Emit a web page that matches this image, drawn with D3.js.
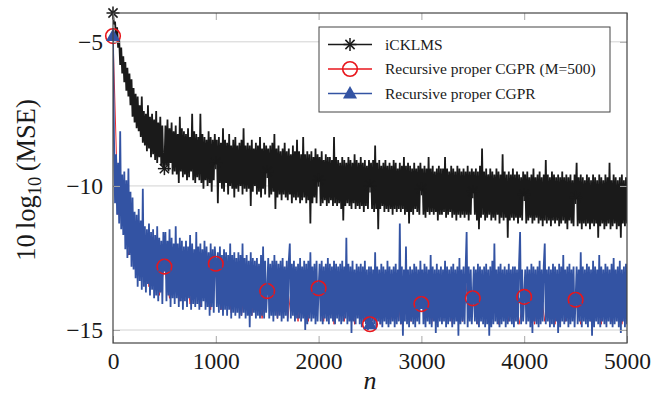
<!DOCTYPE html>
<html>
<head>
<meta charset="utf-8">
<script src="https://cdn.jsdelivr.net/npm/d3@7"></script>
<style>
  body { margin: 0; background: #fff; }
  text { font-family: "Liberation Serif", "DejaVu Serif", serif; fill: #1a1a1a; }
</style>
</head>
<body>
<script>
// learning curves, 10 log10(MSE) in dB, one value every 10 samples (n = 0..5000)
var iCKLMS = [
  -4.0,-4.4,-4.3,-4.9,-4.5,-5.2,-4.9,-5.8,-5.2,-6.1,
  -5.5,-6.4,-5.7,-6.7,-5.9,-6.9,-6.1,-7.2,-6.3,-7.6,
  -6.6,-7.8,-6.8,-8.0,-6.9,-8.1,-7.2,-8.3,-6.9,-8.5,
  -7.4,-8.6,-7.5,-8.8,-7.2,-8.7,-7.6,-9.0,-7.5,-8.9,
  -7.7,-9.1,-7.4,-9.2,-7.8,-9.0,-7.6,-9.3,-7.9,-9.4,
  -9.4,-7.9,-9.3,-7.7,-9.5,-8.0,-9.2,-7.8,-9.6,-8.1,
  -9.5,-7.9,-9.6,-8.2,-9.9,-7.6,-9.5,-8.0,-9.7,-8.1,
  -9.6,-8.2,-9.8,-8.0,-9.7,-8.3,-9.5,-7.5,-9.8,-8.1,
  -9.9,-8.2,-9.7,-8.3,-9.8,-7.5,-9.9,-8.2,-10.1,-8.3,
  -9.8,-8.4,-10.0,-8.1,-9.9,-8.3,-10.2,-8.4,-9.8,-8.2,
  -9.2,-8.4,-10.6,-8.3,-9.9,-8.5,-10.1,-8.0,-10.2,-8.4,
  -9.9,-8.5,-10.3,-8.2,-10.0,-8.6,-10.1,-8.4,-10.4,-8.3,
  -10.1,-8.6,-10.2,-8.5,-10.0,-8.4,-10.3,-8.0,-10.1,-8.6,
  -10.2,-8.5,-10.1,-8.6,-10.7,-8.4,-10.2,-8.7,-10.0,-8.5,
  -10.3,-8.6,-10.2,-8.3,-10.4,-8.7,-10.1,-8.5,-10.3,-8.6,
  -9.5,-8.7,-10.4,-8.6,-10.3,-8.5,-10.2,-8.2,-10.8,-8.7,
  -10.4,-8.6,-10.3,-8.8,-10.5,-8.7,-10.3,-8.5,-10.4,-8.8,
  -10.5,-8.7,-10.3,-8.9,-10.6,-8.6,-10.4,-8.8,-10.5,-8.4,
  -10.4,-8.8,-10.6,-8.9,-10.5,-8.3,-10.4,-8.9,-10.6,-8.8,
  -10.5,-8.9,-11.3,-8.8,-10.6,-9.0,-10.4,-8.7,-10.6,-8.9,
  -9.8,-9.0,-10.7,-8.8,-10.6,-9.1,-10.5,-8.9,-10.7,-9.0,
  -10.6,-9.0,-10.5,-9.1,-10.7,-8.3,-10.6,-9.0,-10.7,-9.1,
  -10.6,-9.2,-10.8,-9.0,-11.2,-9.1,-10.7,-9.2,-10.6,-9.0,
  -10.7,-9.1,-10.8,-9.2,-10.6,-8.9,-10.8,-9.1,-10.7,-9.2,
  -10.8,-9.0,-10.7,-9.2,-10.9,-9.1,-10.7,-9.3,-10.8,-9.1,
  -10.0,-9.2,-10.8,-9.1,-10.9,-8.6,-10.8,-9.2,-11.5,-9.1,
  -10.8,-9.3,-10.7,-9.2,-10.9,-9.1,-10.8,-9.3,-10.9,-9.2,
  -10.8,-9.3,-11.0,-9.1,-10.8,-9.2,-10.9,-9.4,-10.8,-9.2,
  -10.9,-9.3,-10.8,-9.0,-11.0,-9.3,-10.9,-9.2,-11.3,-9.3,
  -10.9,-9.4,-11.0,-9.2,-10.8,-9.4,-10.9,-9.3,-11.0,-9.2,
  -10.1,-9.4,-11.0,-9.3,-11.1,-9.4,-10.9,-9.0,-11.0,-9.4,
  -10.9,-9.3,-11.0,-9.5,-10.9,-9.4,-11.2,-9.3,-11.0,-9.4,
  -11.0,-9.4,-10.9,-9.0,-11.1,-9.4,-11.0,-9.5,-10.9,-9.3,
  -11.1,-9.4,-11.0,-9.5,-11.2,-9.3,-11.0,-9.4,-11.1,-9.5,
  -11.0,-9.4,-11.1,-9.5,-11.0,-9.3,-11.2,-9.5,-11.0,-9.4,
  -10.2,-9.5,-11.0,-9.4,-11.2,-9.5,-11.5,-9.3,-11.1,-8.7,
  -11.0,-9.5,-11.2,-9.4,-11.1,-9.6,-11.0,-9.4,-11.2,-9.5,
  -11.1,-9.6,-11.2,-9.4,-11.0,-9.5,-11.3,-9.6,-11.1,-8.9,
  -11.2,-9.5,-11.1,-9.6,-11.8,-9.5,-11.2,-9.6,-11.1,-9.4,
  -11.2,-9.6,-11.1,-9.5,-11.3,-9.6,-11.1,-9.7,-11.2,-9.5,
  -10.3,-9.6,-11.3,-9.5,-11.2,-9.7,-11.1,-9.6,-11.3,-9.4,
  -11.2,-9.7,-11.1,-9.6,-11.3,-9.5,-11.2,-9.7,-11.4,-9.6,
  -11.2,-9.1,-11.3,-9.6,-11.2,-9.7,-11.4,-9.5,-11.2,-9.6,
  -11.3,-9.7,-11.2,-9.6,-11.4,-9.7,-11.3,-9.5,-11.2,-9.7,
  -11.3,-9.6,-11.5,-9.7,-11.2,-9.6,-11.3,-9.8,-11.4,-9.6,
  -10.4,-9.2,-11.4,-9.7,-11.3,-9.6,-11.5,-9.7,-11.3,-9.8,
  -11.4,-9.6,-11.3,-9.7,-11.5,-9.8,-11.3,-9.6,-11.4,-9.7,
  -11.3,-9.8,-11.8,-9.6,-11.4,-9.7,-11.3,-9.8,-11.5,-9.6,
  -11.4,-9.7,-11.3,-9.2,-11.5,-9.8,-11.4,-9.6,-11.3,-9.7,
  -11.5,-9.8,-11.4,-9.7,-11.8,-9.6,-11.3,-9.8,-11.4,-9.7,
  -11.3
]

// one value every 50 samples, mostly hidden under the blue curve
var cgprM500 = [
  -4.8,-11.0,-10.5,-12.4,-11.6,-13.1,-12.0,-13.5,-12.3,-13.8,
  -12.8,-13.9,-12.4,-14.0,-12.6,-14.1,-12.5,-14.2,-12.7,-14.3,
  -12.7,-14.3,-12.9,-14.4,-13.0,-14.5,-12.9,-14.5,-13.1,-14.6,
  -13.65,-12.9,-14.6,-13.0,-14.6,-13.1,-14.7,-13.0,-14.7,-13.2,
  -13.55,-14.7,-13.1,-14.8,-13.2,-14.7,-13.0,-14.8,-13.3,-14.7,
  -14.8,-13.2,-14.8,-13.1,-14.7,-13.3,-14.8,-13.2,-14.7,-13.1,
  -14.1,-13.2,-14.8,-13.3,-14.7,-13.1,-14.8,-13.2,-14.7,-13.3,
  -13.9,-14.8,-13.2,-14.7,-13.1,-14.8,-13.3,-14.7,-13.2,-14.8,
  -13.85,-13.1,-14.8,-13.3,-14.7,-13.2,-14.8,-13.1,-14.7,-13.3,
  -13.95,-14.8,-13.2,-14.7,-13.1,-14.8,-13.3,-14.7,-13.2,-14.8,
  -13.9
]

// one value every 10 samples
var cgpr = [
  -4.8,-8.4,-10.6,-8.9,-11.0,-9.2,-11.3,-8.1,-11.5,-9.6,
  -11.7,-9.5,-12.2,-9.8,-12.5,-9.4,-12.4,-10.2,-12.8,-10.4,
  -12.9,-10.9,-13.2,-11.0,-13.5,-10.8,-13.3,-11.2,-13.6,-10.1,
  -13.5,-11.4,-13.7,-11.5,-13.4,-11.3,-13.8,-11.6,-13.6,-11.5,
  -13.9,-11.7,-13.8,-11.4,-14.0,-11.8,-13.7,-11.9,-14.1,-11.6,
  -12.8,-11.6,-14.0,-11.9,-13.8,-11.5,-14.2,-11.8,-13.9,-12.0,
  -14.1,-11.4,-13.9,-12.0,-14.2,-11.8,-14.0,-11.9,-14.3,-12.1,
  -14.0,-11.9,-14.2,-12.1,-13.9,-11.7,-14.3,-12.0,-14.1,-12.2,
  -14.2,-11.6,-14.1,-12.1,-14.3,-12.0,-14.2,-12.2,-14.0,-11.9,
  -14.3,-12.1,-14.2,-12.3,-14.5,-12.0,-14.2,-12.2,-14.4,-12.1,
  -12.7,-14.2,-12.3,-14.4,-12.1,-14.3,-12.4,-14.5,-12.2,-14.3,
  -12.3,-14.5,-12.4,-14.3,-12.0,-14.6,-12.4,-14.4,-12.3,-14.5,
  -12.5,-14.4,-12.3,-14.6,-12.4,-14.5,-12.0,-14.4,-12.5,-14.6,
  -12.4,-14.5,-12.6,-14.9,-12.3,-14.5,-12.5,-14.4,-12.6,-14.6,
  -12.5,-14.5,-12.7,-14.6,-12.4,-14.5,-12.1,-14.6,-12.6,-14.4,
  -13.6,-12.5,-14.6,-12.7,-14.5,-12.6,-14.7,-12.4,-14.5,-12.6,
  -14.6,-12.7,-14.5,-12.6,-14.7,-12.5,-14.6,-12.8,-14.5,-12.6,
  -14.7,-12.6,-12.0,-14.6,-12.7,-14.5,-12.6,-14.7,-12.8,-14.6,
  -12.7,-14.6,-12.5,-14.7,-12.8,-14.6,-12.6,-15.0,-12.7,-14.8,
  -12.6,-14.6,-12.3,-14.7,-12.8,-14.6,-12.7,-14.8,-12.6,-14.7,
  -13.55,-12.7,-14.7,-12.6,-14.8,-12.8,-14.6,-12.7,-14.7,-12.5,
  -14.8,-12.7,-14.6,-12.8,-14.7,-12.6,-14.8,-12.7,-14.6,-12.8,
  -14.7,-12.7,-14.8,-12.6,-14.7,-12.8,-14.6,-11.8,-14.8,-12.7,
  -14.7,-12.8,-15.1,-12.6,-14.7,-12.9,-14.8,-12.7,-14.6,-12.8,
  -14.8,-12.7,-14.9,-12.8,-14.7,-12.6,-14.8,-12.9,-15.0,-12.8,
  -14.8,-12.8,-14.7,-12.9,-14.8,-12.3,-14.9,-12.8,-14.7,-12.9,
  -14.8,-12.7,-14.9,-12.8,-14.7,-12.9,-14.8,-12.6,-14.9,-12.8,
  -14.8,-12.9,-14.7,-12.8,-14.9,-12.7,-14.8,-12.9,-14.7,-11.3,
  -14.8,-12.8,-15.2,-12.9,-14.7,-12.1,-14.8,-12.9,-14.9,-12.8,
  -14.7,-12.9,-14.8,-12.7,-14.9,-12.8,-14.7,-12.9,-14.8,-12.6,
  -14.1,-12.9,-14.8,-12.7,-14.9,-12.8,-14.7,-12.9,-14.8,-12.4,
  -14.9,-12.8,-14.7,-12.9,-15.1,-12.7,-14.9,-12.9,-14.7,-12.8,
  -14.8,-12.9,-14.7,-12.6,-14.9,-12.8,-14.8,-12.9,-14.7,-12.8,
  -14.9,-12.7,-14.8,-12.9,-14.7,-12.8,-15.2,-12.5,-14.8,-12.9,
  -14.7,-12.8,-14.8,-12.9,-11.6,-14.9,-12.8,-14.7,-12.9,-14.8,
  -13.9,-12.8,-14.7,-12.9,-14.8,-12.7,-14.9,-12.8,-14.7,-12.9,
  -14.8,-12.8,-14.9,-12.7,-14.8,-12.9,-15.2,-12.8,-14.9,-12.6,
  -14.8,-12.0,-14.7,-12.9,-14.8,-12.8,-14.9,-12.7,-14.8,-12.9,
  -14.7,-12.8,-14.9,-12.9,-14.8,-12.7,-14.7,-12.9,-14.8,-12.8,
  -14.9,-12.8,-14.7,-12.9,-14.8,-12.7,-11.6,-14.8,-12.9,-14.7,
  -13.85,-12.9,-14.8,-12.8,-14.7,-12.9,-14.9,-12.7,-15.1,-12.8,
  -14.7,-12.9,-14.8,-12.8,-14.9,-12.6,-14.8,-12.9,-14.7,-12.8,
  -12.0,-14.8,-12.9,-14.7,-12.8,-14.9,-12.9,-14.8,-12.7,-14.9,
  -12.8,-14.7,-12.9,-15.1,-12.7,-14.9,-12.8,-14.7,-12.4,-14.8,
  -12.9,-14.7,-12.8,-14.9,-12.7,-14.8,-12.9,-14.7,-12.8,-14.9,
  -13.95,-12.8,-14.8,-12.9,-14.7,-12.3,-14.9,-12.8,-14.7,-12.9,
  -14.8,-12.7,-14.9,-12.8,-14.7,-12.9,-15.2,-12.6,-14.9,-12.8,
  -14.7,-12.9,-14.8,-12.4,-14.9,-12.8,-14.7,-12.9,-14.8,-12.7,
  -14.9,-12.8,-14.7,-12.9,-14.8,-12.7,-14.9,-12.5,-14.8,-12.9,
  -14.7,-12.8,-14.9,-12.6,-15.1,-12.9,-14.7,-12.8,-14.9,-12.7,
  -14.8
]

var markIdx = [0, 500, 1000, 1500, 2000, 2500, 3000, 3500, 4000, 4500]
var xTicks = [0, 1000, 2000, 3000, 4000, 5000]
var yTicks = [-15, -10, -5]
var names = ["iCKLMS", "Recursive proper CGPR (M=500)", "Recursive proper CGPR"]

var width = 667, height = 398
var margin = {top: 13, right: 40, bottom: 55, left: 113}
var colors = ["#1a1a1a", "#e8161c", "#3353a3"]
var serif = '"Liberation Serif", "DejaVu Serif", serif'

var x = d3.scaleLinear().domain([0, 5000]).range([margin.left, width - margin.right])
var y = d3.scaleLinear().domain([-15.45, -4]).range([height - margin.bottom, margin.top])

// turn a value list into [n, value] points
function pts(vals) {
  var step = 5000 / (vals.length - 1)
  return vals.map((v, i) => [i * step, v])
}
function at(vals, n) {
  var step = 5000 / (vals.length - 1)
  return vals[Math.round(n / step)]
}

var series = [
  {vals: iCKLMS, mark: "star", w: 1.8},
  {vals: cgprM500, mark: "circle", w: 0.9},
  {vals: cgpr, mark: "tri", w: 1.8}
]

var svg = d3.select("body").append("svg").attr("width", width).attr("height", height)

svg.append("clipPath").attr("id", "clip").append("rect")
  .attr("x", margin.left).attr("y", margin.top)
  .attr("width", width - margin.left - margin.right)
  .attr("height", height - margin.top - margin.bottom)

// horizontal grid
svg.append("g").selectAll("line").data(yTicks).join("line")
  .attr("x1", margin.left).attr("x2", width - margin.right)
  .attr("y1", d => y(d)).attr("y2", d => y(d))
  .attr("stroke", "#d2d2d2").attr("stroke-width", 1)

var line = d3.line().x(d => x(d[0])).y(d => y(d[1]))

var lines = svg.append("g").attr("clip-path", "url(#clip)")
series.forEach((s, i) => {
  lines.append("path").datum(pts(s.vals))
    .attr("d", line).attr("fill", "none")
    .attr("stroke", colors[i]).attr("stroke-width", s.w)
    .attr("stroke-linejoin", "bevel")
})

function drawMark(g, type, color) {
  if (type == "star") {
    [0, 45, 90, 135].forEach(a => {
      var r = 6.5, t = a * Math.PI / 180
      g.append("line")
        .attr("x1", -r * Math.cos(t)).attr("y1", -r * Math.sin(t))
        .attr("x2", r * Math.cos(t)).attr("y2", r * Math.sin(t))
        .attr("stroke", color).attr("stroke-width", 1.5)
    })
  } else if (type == "circle") {
    g.append("circle").attr("r", 7.3).attr("fill", "none")
      .attr("stroke", color).attr("stroke-width", 1.6)
  } else {
    g.append("path").attr("d", "M0,-7.5L7,5L-7,5Z").attr("fill", color)
  }
}

// marks
series.forEach((s, i) => {
  markIdx.forEach(n => {
    var g = svg.append("g").attr("transform", `translate(${x(n)},${y(at(s.vals, n))})`)
    drawMark(g, s.mark, colors[i])
  })
})

// axes, ticks pointing inward
var gx = svg.append("g").attr("transform", `translate(0,${height - margin.bottom})`)
  .call(d3.axisBottom(x).tickValues(xTicks).tickSize(-7).tickPadding(9).tickFormat(d3.format("d")))
var gxt = svg.append("g").attr("transform", `translate(0,${margin.top})`)
  .call(d3.axisTop(x).tickValues(xTicks).tickSize(-7).tickFormat(""))
var gy = svg.append("g").attr("transform", `translate(${margin.left},0)`)
  .call(d3.axisLeft(y).tickValues(yTicks).tickSize(-7).tickPadding(10).tickFormat(d => "\u2212" + Math.abs(d)))
var gyr = svg.append("g").attr("transform", `translate(${width - margin.right},0)`)
  .call(d3.axisRight(y).tickValues(yTicks).tickSize(-7).tickFormat(""))

;[gx, gxt, gy, gyr].forEach(g => {
  g.attr("font-family", serif).attr("font-size", 23.5)
  g.select(".domain").remove()
  g.selectAll(".tick line").attr("stroke", "#a8a8a8")
  g.selectAll("text").attr("fill", "#1a1a1a")
})

svg.append("rect")
  .attr("x", margin.left).attr("y", margin.top)
  .attr("width", width - margin.left - margin.right)
  .attr("height", height - margin.top - margin.bottom)
  .attr("fill", "none").attr("stroke", "#444").attr("stroke-width", 1.2)

// axis labels
var yl = svg.append("text").attr("transform", "translate(35,180) rotate(-90)")
  .attr("text-anchor", "middle").attr("font-size", 26.5)
yl.append("tspan").text("10\u2009log")
yl.append("tspan").attr("font-size", 18.5).attr("dy", 6).text("10")
yl.append("tspan").attr("dy", -6).text("\u2009(MSE)")

svg.append("text").attr("x", 370).attr("y", 389).attr("text-anchor", "middle")
  .attr("font-size", 26).attr("font-style", "italic").text("n")

// legend
var leg = svg.append("g")
leg.append("rect").attr("x", 319).attr("y", 27).attr("width", 291).attr("height", 85)
  .attr("fill", "#fff").attr("stroke", "#444").attr("stroke-width", 1)
var rowY = [44.5, 69, 93.5]
series.forEach((s, i) => {
  leg.append("line").attr("x1", 328).attr("x2", 372).attr("y1", rowY[i]).attr("y2", rowY[i])
    .attr("stroke", colors[i]).attr("stroke-width", 1.3)
  drawMark(leg.append("g").attr("transform", `translate(350,${rowY[i]})`), s.mark, colors[i])
  leg.append("text").attr("x", 385).attr("y", rowY[i]).attr("dy", "0.35em")
    .attr("font-size", 15.5).text(names[i])
})
</script>
</body>
</html>
